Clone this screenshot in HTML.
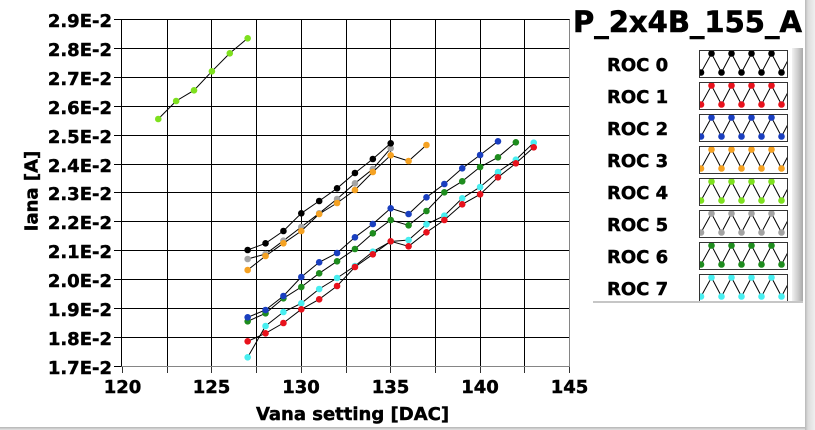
<!DOCTYPE html>
<html><head><meta charset="utf-8"><style>
html,body{margin:0;padding:0;background:#fff;}
svg{display:block;}
text{font-family:"DejaVu Sans","Liberation Sans",sans-serif;font-weight:bold;fill:#000;stroke:#000;stroke-width:0.45px;}
</style></head><body>
<svg width="815" height="430" viewBox="0 0 815 430" xmlns="http://www.w3.org/2000/svg">
<defs>
<marker id="m0" markerWidth="8" markerHeight="8" refX="4" refY="4" markerUnits="userSpaceOnUse"><circle cx="4" cy="4" r="3.3" fill="#000"/></marker>
<marker id="m1" markerWidth="8" markerHeight="8" refX="4" refY="4" markerUnits="userSpaceOnUse"><circle cx="4" cy="4" r="3.3" fill="#e8121c"/></marker>
<marker id="m2" markerWidth="8" markerHeight="8" refX="4" refY="4" markerUnits="userSpaceOnUse"><circle cx="4" cy="4" r="3.3" fill="#1a3fbf"/></marker>
<marker id="m3" markerWidth="8" markerHeight="8" refX="4" refY="4" markerUnits="userSpaceOnUse"><circle cx="4" cy="4" r="3.3" fill="#f5a223"/></marker>
<marker id="m4" markerWidth="8" markerHeight="8" refX="4" refY="4" markerUnits="userSpaceOnUse"><circle cx="4" cy="4" r="3.3" fill="#7ee01e"/></marker>
<marker id="m5" markerWidth="8" markerHeight="8" refX="4" refY="4" markerUnits="userSpaceOnUse"><circle cx="4" cy="4" r="3.3" fill="#a4a4a4"/></marker>
<marker id="m6" markerWidth="8" markerHeight="8" refX="4" refY="4" markerUnits="userSpaceOnUse"><circle cx="4" cy="4" r="3.3" fill="#1e8c1e"/></marker>
<marker id="m7" markerWidth="8" markerHeight="8" refX="4" refY="4" markerUnits="userSpaceOnUse"><circle cx="4" cy="4" r="3.3" fill="#48eef0"/></marker>
<linearGradient id="gbar" x1="0" y1="0" x2="1" y2="0"><stop offset="0" stop-color="#b8b8b8"/><stop offset="0.3" stop-color="#dcdcdc"/><stop offset="1" stop-color="#efefef"/></linearGradient>
<linearGradient id="gsh" x1="0" y1="0" x2="1" y2="0"><stop offset="0" stop-color="#f2f2f2"/><stop offset="0.5" stop-color="#d0d0d0"/><stop offset="1" stop-color="#a8a8a8"/></linearGradient>
<linearGradient id="gbot" x1="0" y1="0" x2="0" y2="1"><stop offset="0" stop-color="#b4b4b4"/><stop offset="1" stop-color="#e4e4e4"/></linearGradient>
<clipPath id="lc"><rect x="699.5" y="50.5" width="88" height="26.5"/></clipPath>
</defs>

<g stroke="#000" stroke-width="1" fill="none">
<path d="M122 48.5H570M122 77.5H570M122 106.5H570M122 135.5H570M122 164.5H570M122 192.5H570M122 221.5H570M122 250.5H570M122 279.5H570M122 308.5H570M122 337.5H570"/>
<path d="M167.5 19V367M211.5 19V367M256.5 19V367M301.5 19V367M346.5 19V367M390.5 19V367M435.5 19V367M480.5 19V367M524.5 19V367"/>
<path d="M114 19.5H122M114 48.5H122M114 77.5H122M114 106.5H122M114 135.5H122M114 164.5H122M114 192.5H122M114 221.5H122M114 250.5H122M114 279.5H122M114 308.5H122M114 337.5H122M114 366.5H122"/>
</g>
<path d="M121.5 367V19.5H570" stroke="#000" stroke-width="1" fill="none"/>
<path d="M569.5 19.5V366.5H121.5" stroke="#858585" stroke-width="1" fill="none"/>
<path d="M122.5 367V373M167.5 367V373M211.5 367V373M256.5 367V373M301.5 367V373M346.5 367V373M390.5 367V373M435.5 367V373M480.5 367V373M524.5 367V373M569.5 367V373" stroke="#333" stroke-width="1"/>

<g font-size="18" text-anchor="end">
<text x="112" y="27">2.9E-2</text>
<text x="112" y="56">2.8E-2</text>
<text x="112" y="85">2.7E-2</text>
<text x="112" y="114">2.6E-2</text>
<text x="112" y="143">2.5E-2</text>
<text x="112" y="172">2.4E-2</text>
<text x="112" y="200">2.3E-2</text>
<text x="112" y="229">2.2E-2</text>
<text x="112" y="258">2.1E-2</text>
<text x="112" y="287">2.0E-2</text>
<text x="112" y="316">1.9E-2</text>
<text x="112" y="345">1.8E-2</text>
<text x="112" y="374">1.7E-2</text>
</g>
<g font-size="18" text-anchor="middle">
<text x="122.5" y="393">120</text>
<text x="211.5" y="393">125</text>
<text x="301" y="393">130</text>
<text x="390.5" y="393">135</text>
<text x="480" y="393">140</text>
<text x="569.5" y="393">145</text>
<text x="352.5" y="420">Vana setting [DAC]</text>
</g>
<text font-size="18" text-anchor="middle" transform="translate(37.5,191) rotate(-90)">Iana [A]</text>

<g fill="none" stroke="#000" stroke-width="1">
<polyline marker-start="url(#m7)" marker-mid="url(#m7)" marker-end="url(#m7)" points="247.66,357.3 265.54,326 283.42,312 301.3,303.3 319.18,289 337.06,278 354.94,266 372.82,251.7 390.7,241.5 408.58,240 426.46,224.3 444.34,215.7 462.22,198.3 480.1,187 497.98,172 515.86,159.7 533.74,142.7"/>
<polyline marker-start="url(#m6)" marker-mid="url(#m6)" marker-end="url(#m6)" points="247.66,321.3 265.54,313.3 283.42,298.3 301.3,287 319.18,273.3 337.06,261.3 354.94,249 372.82,233.3 390.7,220 408.58,225.3 426.46,211 444.34,192.3 462.22,181.3 480.1,167 497.98,157.3 515.86,142.3"/>
<polyline marker-start="url(#m5)" marker-mid="url(#m5)" marker-end="url(#m5)" points="247.66,259 265.54,254 283.42,240.7 301.3,227 319.18,213.3 337.06,199 354.94,183.3 372.82,169 390.7,148.3"/>
<polyline marker-start="url(#m4)" marker-mid="url(#m4)" marker-end="url(#m4)" points="158.26,119 176.14,101 194.02,90.3 211.9,71.3 229.78,53.3 247.66,38.3"/>
<polyline marker-start="url(#m3)" marker-mid="url(#m3)" marker-end="url(#m3)" points="247.66,270 265.54,256 283.42,243.3 301.3,231 319.18,214 337.06,203 354.94,190 372.82,172 390.7,155.3 408.58,161 426.46,145"/>
<polyline marker-start="url(#m2)" marker-mid="url(#m2)" marker-end="url(#m2)" points="247.66,317.3 265.54,310 283.42,296 301.3,277 319.18,262.3 337.06,253 354.94,237.3 372.82,224 390.7,208.3 408.58,214 426.46,197.3 444.34,184 462.22,168.3 480.1,155 497.98,141.3"/>
<polyline marker-start="url(#m1)" marker-mid="url(#m1)" marker-end="url(#m1)" points="247.66,341.3 265.54,333.3 283.42,323 301.3,309.3 319.18,299.3 337.06,286 354.94,267 372.82,254.3 390.7,241.3 408.58,246.3 426.46,232.3 444.34,220 462.22,204.3 480.1,194.3 497.98,177.3 515.86,163.3 533.74,147.3"/>
<polyline marker-start="url(#m0)" marker-mid="url(#m0)" marker-end="url(#m0)" points="247.66,250 265.54,243.3 283.42,231 301.3,213.3 319.18,201 337.06,188.3 354.94,173 372.82,159 390.7,143.3"/>
</g>

<text x="573" y="32" font-size="29" style="stroke-width:0.6px">P_2x4B_155_A</text>

<g font-size="18">
<text x="607" y="71">ROC 0</text>
<text x="607" y="103">ROC 1</text>
<text x="607" y="135">ROC 2</text>
<text x="607" y="167">ROC 3</text>
<text x="607" y="199">ROC 4</text>
<text x="607" y="231">ROC 5</text>
<text x="607" y="263">ROC 6</text>
<text x="607" y="295">ROC 7</text>
</g>
<g>
<g clip-path="url(#lc)"><polyline fill="none" stroke="#000" stroke-width="1" marker-start="url(#m0)" marker-mid="url(#m0)" points="701,72.5 711.5,53.5 721.5,72.5 731.5,53.5 741.5,72.5 751.5,53.5 761.5,72.5 771.5,53.5 781.5,72.5 791.5,53.5"/></g>
<rect x="699.5" y="50.5" width="88" height="27" fill="none" stroke="#333"/>
</g>
<g transform="translate(0,32)">
<g clip-path="url(#lc)"><polyline fill="none" stroke="#000" stroke-width="1" marker-start="url(#m1)" marker-mid="url(#m1)" points="701,72.5 711.5,53.5 721.5,72.5 731.5,53.5 741.5,72.5 751.5,53.5 761.5,72.5 771.5,53.5 781.5,72.5 791.5,53.5"/></g>
<rect x="699.5" y="50.5" width="88" height="27" fill="none" stroke="#333"/>
</g>
<g transform="translate(0,64)">
<g clip-path="url(#lc)"><polyline fill="none" stroke="#000" stroke-width="1" marker-start="url(#m2)" marker-mid="url(#m2)" points="701,72.5 711.5,53.5 721.5,72.5 731.5,53.5 741.5,72.5 751.5,53.5 761.5,72.5 771.5,53.5 781.5,72.5 791.5,53.5"/></g>
<rect x="699.5" y="50.5" width="88" height="27" fill="none" stroke="#333"/>
</g>
<g transform="translate(0,96)">
<g clip-path="url(#lc)"><polyline fill="none" stroke="#000" stroke-width="1" marker-start="url(#m3)" marker-mid="url(#m3)" points="701,72.5 711.5,53.5 721.5,72.5 731.5,53.5 741.5,72.5 751.5,53.5 761.5,72.5 771.5,53.5 781.5,72.5 791.5,53.5"/></g>
<rect x="699.5" y="50.5" width="88" height="27" fill="none" stroke="#333"/>
</g>
<g transform="translate(0,128)">
<g clip-path="url(#lc)"><polyline fill="none" stroke="#000" stroke-width="1" marker-start="url(#m4)" marker-mid="url(#m4)" points="701,72.5 711.5,53.5 721.5,72.5 731.5,53.5 741.5,72.5 751.5,53.5 761.5,72.5 771.5,53.5 781.5,72.5 791.5,53.5"/></g>
<rect x="699.5" y="50.5" width="88" height="27" fill="none" stroke="#333"/>
</g>
<g transform="translate(0,160)">
<g clip-path="url(#lc)"><polyline fill="none" stroke="#000" stroke-width="1" marker-start="url(#m5)" marker-mid="url(#m5)" points="701,72.5 711.5,53.5 721.5,72.5 731.5,53.5 741.5,72.5 751.5,53.5 761.5,72.5 771.5,53.5 781.5,72.5 791.5,53.5"/></g>
<rect x="699.5" y="50.5" width="88" height="27" fill="none" stroke="#333"/>
</g>
<g transform="translate(0,192)">
<g clip-path="url(#lc)"><polyline fill="none" stroke="#000" stroke-width="1" marker-start="url(#m6)" marker-mid="url(#m6)" points="701,72.5 711.5,53.5 721.5,72.5 731.5,53.5 741.5,72.5 751.5,53.5 761.5,72.5 771.5,53.5 781.5,72.5 791.5,53.5"/></g>
<rect x="699.5" y="50.5" width="88" height="27" fill="none" stroke="#333"/>
</g>
<g transform="translate(0,224)">
<g clip-path="url(#lc)"><polyline fill="none" stroke="#000" stroke-width="1" marker-start="url(#m7)" marker-mid="url(#m7)" points="701,72.5 711.5,53.5 721.5,72.5 731.5,53.5 741.5,72.5 751.5,53.5 761.5,72.5 771.5,53.5 781.5,72.5 791.5,53.5"/></g>
<rect x="699.5" y="50.5" width="88" height="27" fill="none" stroke="#333"/>
</g>

<rect x="792" y="48" width="11" height="255" fill="url(#gsh)"/>
<rect x="593" y="301" width="210" height="2" fill="#c6c6c6"/>
<rect x="805" y="0" width="10" height="430" fill="url(#gbar)"/>
<rect x="0" y="427" width="805" height="3" fill="url(#gbot)"/>
</svg>
</body></html>
